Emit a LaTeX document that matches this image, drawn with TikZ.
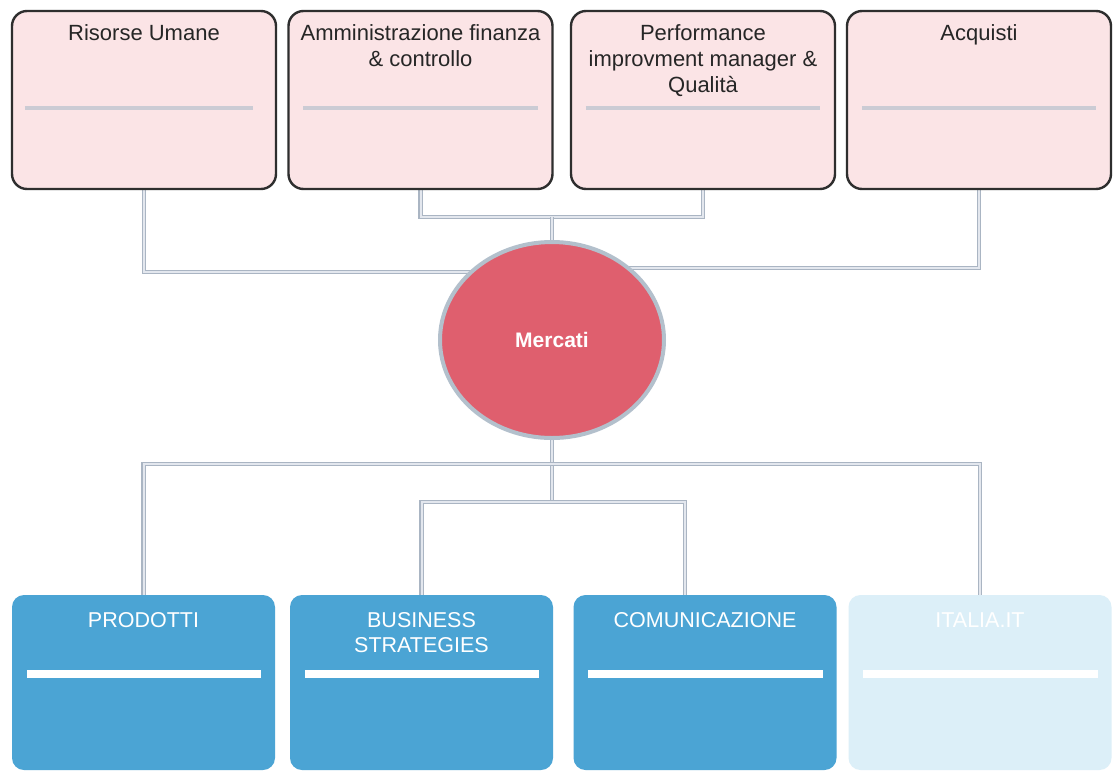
\documentclass[tikz,border=0pt]{standalone}
\usepackage{fontspec}
\setmainfont{Liberation Sans}
\usetikzlibrary{shapes.geometric,backgrounds,calc}
\definecolor{pinkfill}{HTML}{FBE4E6}
\definecolor{boxedge}{HTML}{2E2E2E}
\definecolor{conngrey}{HTML}{AAB5C3}
\definecolor{conninner}{HTML}{E3E7EE}
\definecolor{mred}{HTML}{DF5F6E}
\definecolor{mring}{HTML}{B3C0CC}
\definecolor{bluebox}{HTML}{4BA4D4}
\definecolor{lightbox}{HTML}{DCEFF8}
\definecolor{rulegrey}{HTML}{CBCBD4}
\begin{document}
\begin{tikzpicture}[x=1pt,y=-1pt,
  topbox/.style={draw=boxedge, line width=2.4pt, fill=pinkfill, rounded corners=15pt,
    minimum width=264pt, minimum height=178pt, inner sep=0pt},
  botbox/.style={fill=bluebox, rounded corners=12pt,
    minimum width=263pt, minimum height=175pt, inner sep=0pt},
  toptext/.style={anchor=north, inner sep=0pt, align=center,
    font=\fontsize{22}{26}\selectfont, text=black!85},
  bottext/.style={anchor=north, inner sep=0pt, align=center,
    font=\fontsize{21.5}{25}\selectfont, text=white},
  toprule/.style={draw=rulegrey, line width=4pt},
  botrule/.style={draw=white, line width=8pt},
  conn/.style={draw=conngrey, double=conninner, double distance=2pt, line width=1.4pt}
]
\useasboundingbox (0,0) rectangle (1120,777);

% top boxes
\node[topbox] (t1) at (144,100) {};
\node[topbox] (t2) at (420.5,100) {};
\node[topbox] (t3) at (703,100) {};
\node[topbox] (t4) at (979,100) {};
\draw[toprule] ($(t1.west)+(14,8)$) -- ($(t1.east)+(-24,8)$);
\draw[toprule] ($(t2.west)+(16,8)$) -- ($(t2.east)+(-16,8)$);
\draw[toprule] ($(t3.west)+(16,8)$) -- ($(t3.east)+(-16,8)$);
\draw[toprule] ($(t4.west)+(16,8)$) -- ($(t4.east)+(-16,8)$);
\node[toptext] (t1l) at (144,24) {Risorse Umane};
\node[toptext] (t2l) at (420.5,24) {Amministrazione finanza\\ \& controllo};
\node[toptext] (t3l) at (703,24) {Performance\\ improvment manager \&\\ Qualità};
\node[toptext] (t4l) at (979,24) {Acquisti};

% central ellipse
\node[ellipse, fill=mred, draw=mring, line width=4pt, minimum width=224pt,
  minimum height=196pt, inner sep=0pt, text=white,
  font=\bfseries\fontsize{21}{25}\selectfont] (m) at (552,340) {Mercati};

% bottom boxes
\node[botbox] (b1) at (143.5,682.5) {};
\node[botbox] (b2) at (421.5,682.5) {};
\node[botbox] (b3) at (705,682.5) {};
\node[botbox, fill=lightbox] (b4) at (980,682.5) {};
\draw[botrule] ($(b1.west)+(15,-9)$) -- ($(b1.east)+(-14,-9)$);
\draw[botrule] ($(b2.west)+(15,-9)$) -- ($(b2.east)+(-14,-9)$);
\draw[botrule] ($(b3.west)+(15,-9)$) -- ($(b3.east)+(-14,-9)$);
\draw[botrule] ($(b4.west)+(15,-9)$) -- ($(b4.east)+(-14,-9)$);
\node[bottext] (b1l) at (143.5,612) {PRODOTTI};
\node[bottext] (b2l) at (421.5,612) {BUSINESS\\ STRATEGIES};
\node[bottext] (b3l) at (705,612) {COMUNICAZIONE};
\node[bottext] (b4l) at (980,612) {ITALIA.IT};

% junctions
\coordinate (jTop) at (552,217);
\coordinate (jL) at (552,272);
\coordinate (jR) at (552,268);
\coordinate (jB1) at (552,464);
\coordinate (jB2) at (552,502);

\begin{scope}[on background layer]
\fill[white] (0,0) rectangle (1120,777);
\draw[conn] (t2.south) |- (jTop) -| (t3.south);
\draw[conn] (jTop) -- (m.center);
\draw[conn] (t1.south) |- (jL);
\draw[conn] (t4.south) |- (jR);
\draw[conn] (m.center) -- (jB2);
\draw[conn] (b1.north) |- (jB1) -| (b4.north);
\draw[conn] (b2.north) |- (jB2) -| ([xshift=-20pt]b3.north);
\end{scope}
\end{tikzpicture}
\end{document}
